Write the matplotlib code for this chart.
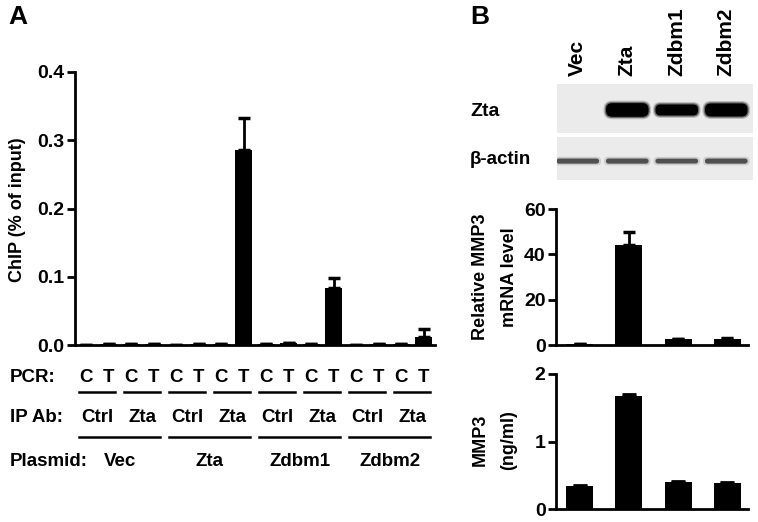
import matplotlib
matplotlib.use("Agg")
import matplotlib.pyplot as plt
from matplotlib.patches import FancyBboxPatch
from matplotlib.transforms import blended_transform_factory
import numpy as np

plt.rcParams['font.family'] = ['Liberation Sans', 'DejaVu Sans']
plt.rcParams['font.weight'] = 'bold'

# ---------------- data ----------------
pcr_labels = ['C', 'T'] * 8
ipab_labels = ['Ctrl', 'Zta'] * 4
plasmids = ['Vec', 'Zta', 'Zdbm1', 'Zdbm2']
chip_values = [0.0005, 0.002, 0.0008, 0.002, 0.0005, 0.001, 0.001, 0.285,
               0.001, 0.003, 0.002, 0.083, 0.0005, 0.002, 0.001, 0.012]
chip_errors = [0.0, 0.0, 0.0, 0.0, 0.0, 0.0, 0.0, 0.047,
               0.0, 0.0, 0.0, 0.015, 0.0, 0.0, 0.0, 0.012]

lanes = ['Vec', 'Zta', 'Zdbm1', 'Zdbm2']
zta_band = [0.0, 1.0, 0.8, 0.95]
actin_band = [1.0, 1.0, 0.95, 1.0]
mrna_values = [0.6, 44.0, 2.5, 2.7]
mrna_errors = [0.0, 6.0, 0.3, 0.4]
mmp3_values = [0.34, 1.68, 0.40, 0.385]
mmp3_errors = [0.01, 0.02, 0.01, 0.01]

W, H = 758, 522
fig = plt.figure(figsize=(W / 100, H / 100), dpi=100)


def fx(px):
    return px / W


def fy(py):
    return 1 - py / H


def style_axes(ax):
    for s in ['top', 'right']:
        ax.spines[s].set_visible(False)
    for s in ['left', 'bottom']:
        ax.spines[s].set_linewidth(2.0)
    ax.tick_params(axis='y', length=6, width=2, labelsize=14, pad=1.5)
    ax.tick_params(axis='x', length=0, labelbottom=False)
    for lab in ax.get_yticklabels():
        lab.set_fontweight('bold')


# ---------------- Panel A ----------------
axA = fig.add_axes([fx(75), fy(345), fx(435) - fx(75), fy(72) - fy(345)])
xA = np.arange(len(chip_values))
axA.bar(xA, chip_values, width=0.75, color='black', zorder=2)
axA.errorbar(xA, chip_values, yerr=[np.zeros(len(chip_errors)), chip_errors],
             fmt='none', ecolor='black', elinewidth=2, capsize=4, capthick=2.5, zorder=1)
axA.set_xlim(-0.5, 15.5)
axA.set_ylim(0, 0.4)
axA.set_yticks([0.0, 0.1, 0.2, 0.3, 0.4])
axA.set_yticklabels(['0.0', '0.1', '0.2', '0.3', '0.4'])
style_axes(axA)
fig.text(fx(18), fy(210), 'ChIP (% of input)', rotation=90, ha='center', va='center',
         fontsize=13, fontweight='bold')
fig.text(fx(8), fy(17), 'A', fontsize=19, fontweight='bold', ha='left', va='center')

trA = blended_transform_factory(axA.transData, fig.transFigure)
for i, lab in enumerate(pcr_labels):
    fig.text(xA[i], fy(377), lab, transform=trA, ha='center', va='center',
             fontsize=13.5, fontweight='bold')
for j, lab in enumerate(ipab_labels):
    c = 2 * j + 0.5
    fig.text(c, fy(418), lab, transform=trA, ha='center', va='center',
             fontsize=13.5, fontweight='bold')
    axA.plot([2 * j - 0.31, 2 * j + 1.29], [fy(392)] * 2, transform=trA,
             color='black', lw=1.8, clip_on=False)
for k, lab in enumerate(plasmids):
    c = 4 * k + 1.5
    fig.text(c, fy(462), lab, transform=trA, ha='center', va='center',
             fontsize=13.5, fontweight='bold')
    axA.plot([4 * k - 0.31, 4 * k + 3.29], [fy(437)] * 2, transform=trA,
             color='black', lw=1.8, clip_on=False)
fig.text(fx(10), fy(377), 'PCR:', ha='left', va='center', fontsize=13.5, fontweight='bold')
fig.text(fx(10), fy(418), 'IP Ab:', ha='left', va='center', fontsize=13.5, fontweight='bold')
fig.text(fx(10), fy(462), 'Plasmid:', ha='left', va='center', fontsize=13.5, fontweight='bold')

# ---------------- Panel B: blots ----------------
fig.text(fx(470), fy(17), 'B', fontsize=19, fontweight='bold', ha='left', va='center')

blot_left, blot_right = 557, 753
b1 = fig.add_axes([fx(blot_left), fy(133), fx(blot_right) - fx(blot_left), fy(84) - fy(133)])
b2 = fig.add_axes([fx(blot_left), fy(180), fx(blot_right) - fx(blot_left), fy(137) - fy(180)])
for b in (b1, b2):
    b.set_xlim(-0.42, 3.54)
    b.set_ylim(0, 1)
    b.set_facecolor('#ebebeb')
    for s in b.spines.values():
        s.set_visible(False)
    b.set_xticks([])
    b.set_yticks([])

xl = np.arange(len(lanes))
for i, v in enumerate(zta_band):
    if v <= 0:
        continue
    h = 0.28 * v
    yc = 0.47
    for grow, a in [(0.05, 0.2), (0.025, 0.45), (0.0, 1.0)]:
        w = 0.86 + 2 * grow
        hh = h + 2 * grow
        p = FancyBboxPatch((xl[i] - w / 2, yc - hh / 2), w, hh,
                           boxstyle='round,pad=0,rounding_size=%.3f' % (hh / 2 * 0.9),
                           fc='black', ec='none', alpha=a)
        b1.add_patch(p)

for i, v in enumerate(actin_band):
    h = 0.12 * v
    yc = 0.44
    for grow, a, col in [(0.04, 0.3, '#8a8a8a'), (0.0, 1.0, '#505050')]:
        w = 0.86 + 2 * grow
        hh = h + 2 * grow
        p = FancyBboxPatch((xl[i] - w / 2, yc - hh / 2), w, hh,
                           boxstyle='round,pad=0,rounding_size=%.3f' % (hh / 2 * 0.9),
                           fc=col, ec='none', alpha=a)
        b2.add_patch(p)

trB = blended_transform_factory(b1.transData, fig.transFigure)
for i, lab in enumerate(lanes):
    fig.text(xl[i], fy(76), lab, transform=trB, rotation=90, ha='center', va='bottom',
             fontsize=15, fontweight='bold')
fig.text(fx(470), fy(112), 'Zta', ha='left', va='center', fontsize=14, fontweight='bold')
fig.text(fx(470), fy(160), 'β-actin', ha='left', va='center', fontsize=13.5, fontweight='bold')

# ---------------- Panel B: bar charts ----------------
ax1 = fig.add_axes([fx(556), fy(345), fx(748) - fx(556), fy(209) - fy(345)])
ax2 = fig.add_axes([fx(556), fy(509), fx(748) - fx(556), fy(374) - fy(509)])
xb = np.arange(len(lanes))
ax1.bar(xb, mrna_values, width=0.55, color='black', zorder=2)
ax1.errorbar(xb, mrna_values, yerr=[np.zeros(4), mrna_errors], fmt='none', ecolor='black',
             elinewidth=2, capsize=4, capthick=2.5, zorder=1)
ax1.set_ylim(0, 60)
ax1.set_yticks([0, 20, 40, 60])
ax2.bar(xb, mmp3_values, width=0.55, color='black', zorder=2)
ax2.errorbar(xb, mmp3_values, yerr=[np.zeros(4), mmp3_errors], fmt='none', ecolor='black',
             elinewidth=2, capsize=5, capthick=2, zorder=1)
ax2.set_ylim(0, 2)
ax2.set_yticks([0, 1, 2])
for ax in (ax1, ax2):
    ax.set_xlim(-0.48, 3.42)
    style_axes(ax)

fig.text(fx(480), fy(277), 'Relative MMP3', rotation=90, ha='center', va='center',
         fontsize=13, fontweight='bold')
fig.text(fx(509), fy(277), 'mRNA level', rotation=90, ha='center', va='center',
         fontsize=13, fontweight='bold')
fig.text(fx(480), fy(440), 'MMP3', rotation=90, ha='center', va='center',
         fontsize=13, fontweight='bold')
fig.text(fx(509), fy(440), '(ng/ml)', rotation=90, ha='center', va='center',
         fontsize=13, fontweight='bold')

fig.savefig('out.png', dpi=100)
